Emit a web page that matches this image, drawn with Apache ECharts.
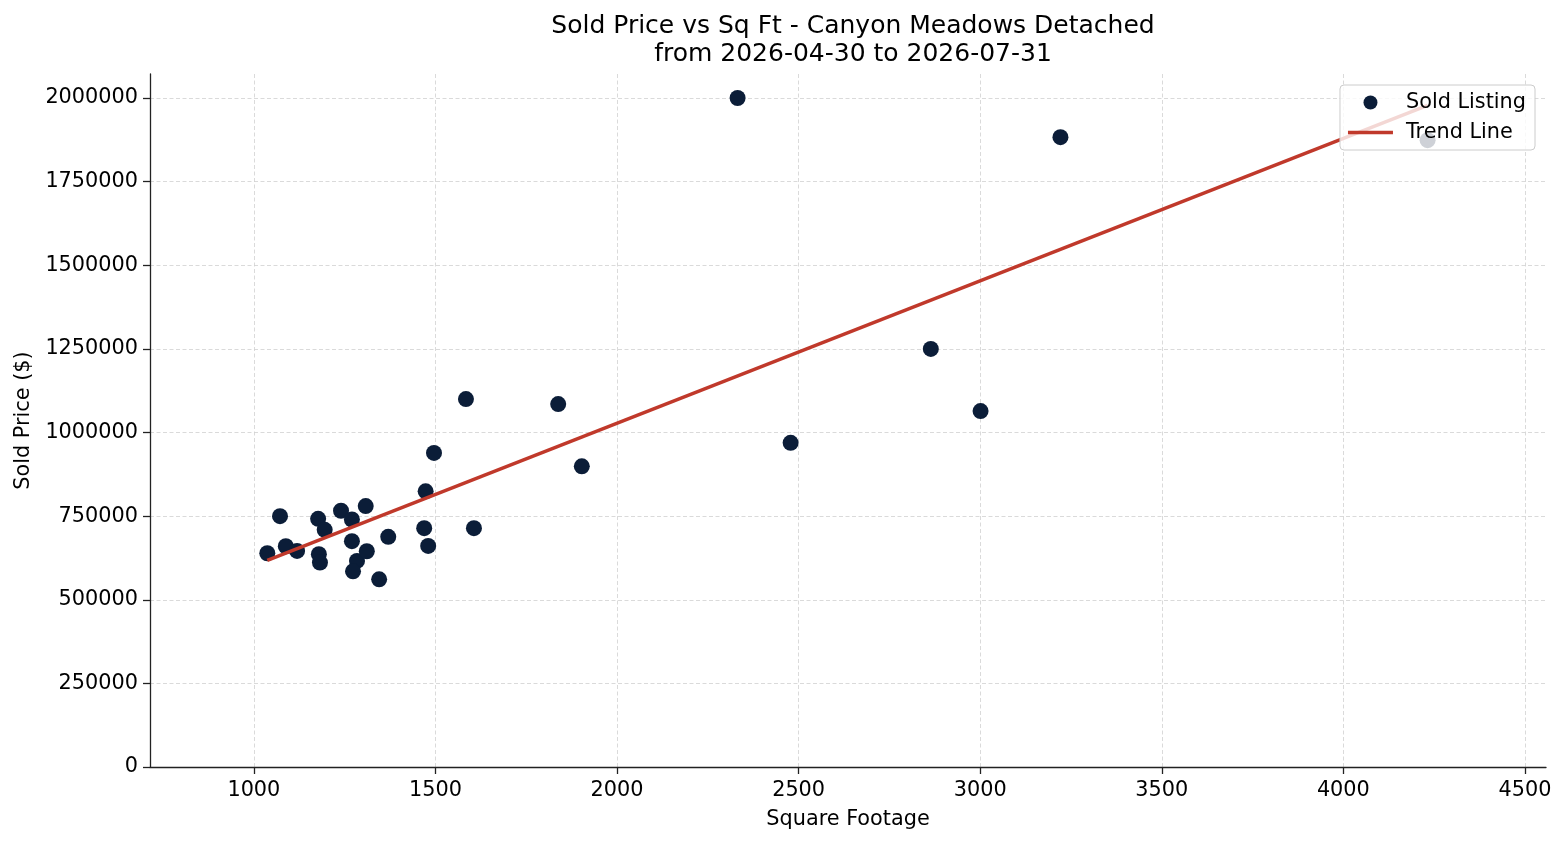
<!DOCTYPE html>
<html>
<head>
<meta charset="utf-8">
<script src="https://cdn.jsdelivr.net/npm/echarts@6/dist/echarts.min.js"></script>
<style>
  html, body { margin: 0; padding: 0; background: #fff; }
  #chart { width: 1566px; height: 845px; }
</style>
</head>
<body>
<div id="chart"></div>
<script>
// listings
var sqft = [1072, 1037, 1088, 1119, 1177, 1195, 1179, 1182, 1240, 1270,
  1308, 1270, 1284, 1273, 1311, 1345, 1370, 1473, 1469, 1480,
  1496, 1584, 1606, 1838, 1903, 2332, 3221, 2864, 2478, 3001, 4232];
var price = [750000, 639000, 660000, 646000, 742000, 709000, 636000, 611000, 766000, 740000,
  780000, 675000, 616000, 585000, 645000, 561000, 688000, 824000, 714000, 661000,
  939000, 1100000, 714000, 1085000, 899000, 2000000, 1883000, 1250000, 969000, 1064000, 1874000];

// trend line end points
var trendSqft = [1037, 4232];
var trendPrice = [618000, 1978000];

var xTicks = [1000, 1500, 2000, 2500, 3000, 3500, 4000, 4500];
var yTicks = [0, 250000, 500000, 750000, 1000000, 1250000, 1500000, 1750000, 2000000];

var font = 'DejaVu Sans';

var points = [];
for (var i = 0; i < sqft.length; i++) {
  points.push([sqft[i], price[i]]);
}
var trend = [];
for (var j = 0; j < trendSqft.length; j++) {
  trend.push([trendSqft[j], trendPrice[j]]);
}

var gridLine = {
  show: true,
  lineStyle: { color: '#d0d0d0', width: 0.8, type: [4, 2.5] }
};
var plain = function (v) { return String(v); };

var chart = echarts.init(document.getElementById('chart'));
chart.setOption({
  animation: false,
  backgroundColor: '#fff',
  title: {
    text: 'Sold Price vs Sq Ft - Canyon Meadows Detached\nfrom 2026-04-30 to 2026-07-31',
    left: 848,
    top: 7,
    textAlign: 'center',
    textStyle: {
      fontFamily: font,
      fontSize: 25,
      fontWeight: 'normal',
      color: '#000',
      lineHeight: 28
    }
  },
  legend: {
    orient: 'vertical',
    right: 31,
    top: 85,
    z: 10,
    padding: [7, 9, 7, 8],
    itemWidth: 45,
    itemHeight: 14,
    itemGap: 9,
    backgroundColor: 'rgba(255,255,255,0.8)',
    borderColor: '#cccccc',
    borderWidth: 1,
    borderRadius: 4,
    textStyle: { fontFamily: font, fontSize: 20.8, color: '#000', padding: [0, 0, 0, 8] },
    data: [
      { name: 'Sold Listing', icon: 'circle' },
      { name: 'Trend Line', icon: 'path://M0,0 L45,0 L45,3.5 L0,3.5 Z' }
    ]
  },
  grid: {
    left: 150,
    right: 20,
    top: 74,
    bottom: 78
  },
  xAxis: {
    type: 'value',
    min: 714,
    max: 4558,
    name: 'Square Footage',
    nameLocation: 'middle',
    nameGap: 42,
    nameTextStyle: { fontFamily: font, fontSize: 20.8, color: '#000' },
    axisLine: { show: true, onZero: false, lineStyle: { color: '#222', width: 1.3 } },
    axisTick: { show: true, length: 7, customValues: xTicks, lineStyle: { color: '#222', width: 1.3 } },
    axisLabel: { customValues: xTicks, formatter: plain, margin: 13, fontFamily: font, fontSize: 20.8, color: '#000' },
    splitLine: Object.assign({ customValues: xTicks }, gridLine)
  },
  yAxis: {
    type: 'value',
    min: 0,
    max: 2071749,
    name: 'Sold Price ($)',
    nameLocation: 'middle',
    nameGap: 113,
    nameTextStyle: { fontFamily: font, fontSize: 20.8, color: '#000' },
    axisLine: { show: true, onZero: false, lineStyle: { color: '#222', width: 1.3 } },
    axisTick: { show: true, length: 7, customValues: yTicks, lineStyle: { color: '#222', width: 1.3 } },
    axisLabel: { customValues: yTicks, formatter: plain, margin: 12, fontFamily: font, fontSize: 20.8, color: '#000' },
    splitLine: Object.assign({ customValues: yTicks }, gridLine)
  },
  series: [
    {
      name: 'Sold Listing',
      type: 'scatter',
      symbol: 'circle',
      symbolSize: 16,
      itemStyle: { color: '#0b1d38', opacity: 1 },
      data: points,
      z: 2
    },
    {
      name: 'Trend Line',
      type: 'line',
      symbol: 'none',
      lineStyle: { color: '#c0392b', width: 3.5 },
      itemStyle: { color: '#c0392b' },
      data: trend,
      z: 3
    }
  ]
});
</script>
</body>
</html>
